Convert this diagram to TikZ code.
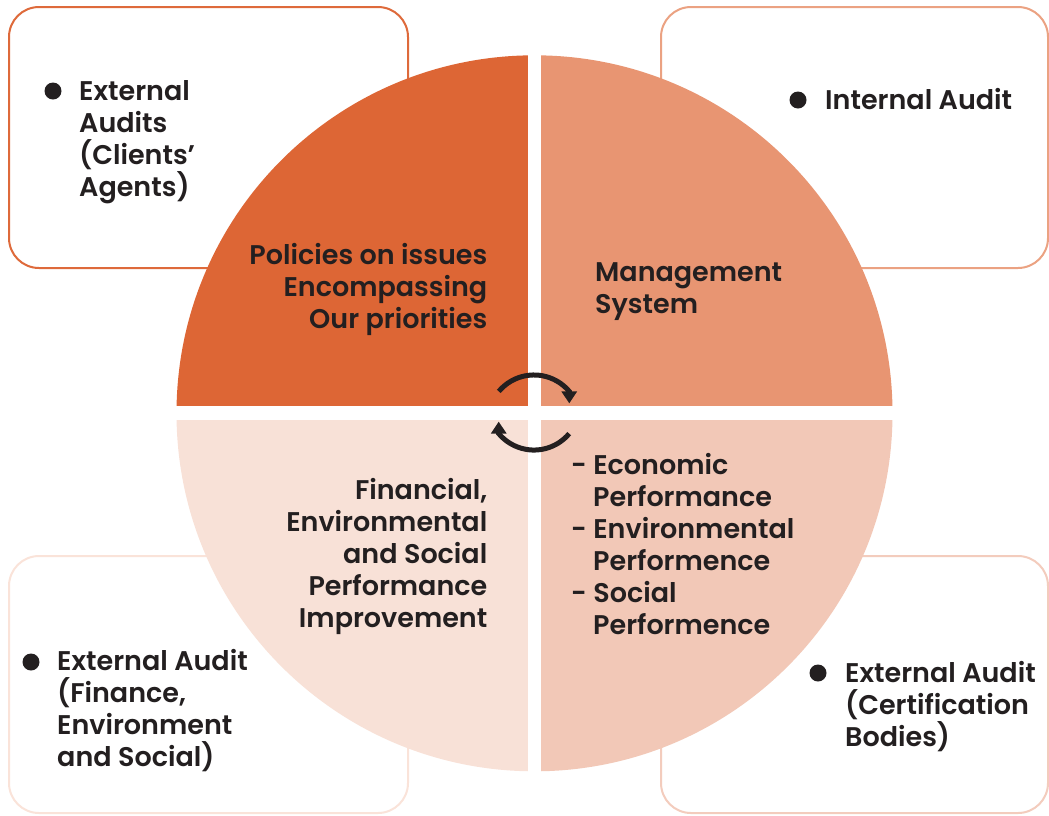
\documentclass[tikz,border=0pt]{standalone}
\usepackage{fontspec}
\setmainfont{Poppins}[UprightFont=* SemiBold, BoldFont=* Bold]
\usetikzlibrary{arrows.meta}
\definecolor{qa}{HTML}{DD6635}
\definecolor{qb}{HTML}{E89572}
\definecolor{qc}{HTML}{F8E1D7}
\definecolor{qd}{HTML}{F2C8B7}
\definecolor{ba}{HTML}{DE6A3B}
\definecolor{bb}{HTML}{EBA282}
\definecolor{bc}{HTML}{FAE3D9}
\definecolor{bd}{HTML}{F3CCBD}
\definecolor{ink}{HTML}{231F20}
\begin{document}
\begin{tikzpicture}[x=1pt,y=-1pt,
  box/.style={draw, line width=2pt, rounded corners=30pt, fill=white, inner sep=0pt},
  txtl/.style={anchor=base west, inner sep=0pt, text=ink, font=\fontsize{27}{32}\selectfont},
  txtr/.style={anchor=base east, inner sep=0pt, text=ink, font=\fontsize{27}{32}\selectfont},
  dot/.style={circle, fill=ink, minimum size=17pt, inner sep=0pt},
  cyc/.style={draw=ink, line width=5pt, -{Triangle[width=15pt,length=12pt]}}]
\useasboundingbox (0,0) rectangle (1049,815);
% boxes
\node[box, draw=ba, minimum width=399pt, minimum height=261pt] (boxTL) at (208.5,137.5) {};
\node[box, draw=bb, minimum width=387pt, minimum height=261pt] (boxTR) at (854.5,137.5) {};
\node[box, draw=bc, minimum width=399pt, minimum height=257pt] (boxBL) at (208.5,684.5) {};
\node[box, draw=bd, minimum width=387pt, minimum height=257pt] (boxBR) at (854.5,684.5) {};
% circle quadrants
\coordinate (C) at (534.5,413.3);
\def\R{358}
\fill[qa] (C) -- ++(180:\R) arc[start angle=180, end angle=270, radius=\R] -- cycle;
\fill[qb] (C) -- ++(270:\R) arc[start angle=270, end angle=360, radius=\R] -- cycle;
\fill[qc] (C) -- ++(90:\R) arc[start angle=90, end angle=180, radius=\R] -- cycle;
\fill[qd] (C) -- ++(0:\R) arc[start angle=0, end angle=90, radius=\R] -- cycle;
\draw[white, line width=14pt] ([xshift=-361pt]C) -- ([xshift=361pt]C);
\draw[white, line width=13pt] ([yshift=-361pt]C) -- ([yshift=361pt]C);
% cycle arrows
\coordinate (ta) at (498.8,391.4);
\coordinate (bb0) at (569.2,433.6);
\draw[cyc] (ta) arc[start angle=220, end angle=320, radius=46] -- ++(0,12);
\draw[cyc] (bb0) arc[start angle=40, end angle=140, radius=46] -- ++(0,-12);
% bullets
\node[dot] (d1) at (53,91) {};
\node[dot] (d2) at (798,100) {};
\node[dot] (d3) at (31,662) {};
\node[dot] (d4) at (818,673) {};
% box texts
\foreach \t [count=\i] in {External, Audits, {(Clients’}, {Agents)}}
  \node[txtl] (tl\i) at (79,{100+32*(\i-1)}) {\t};
\node[txtl] (tr1) at (825,109) {Internal Audit};
\foreach \t [count=\i] in {External Audit, {(Finance,}, Environment, {and Social)}}
  \node[txtl] (bl\i) at (57,{670+32*(\i-1)}) {\t};
\foreach \t [count=\i] in {External Audit, {(Certification}, {Bodies)}}
  \node[txtl] (br\i) at (845,{682+32*(\i-1)}) {\t};
% quadrant texts
\foreach \t [count=\i] in {Policies on issues, Encompassing, Our priorities}
  \node[txtr] (qa\i) at (487.5,{264+32*(\i-1)}) {\t};
\foreach \t [count=\i] in {Management, System}
  \node[txtl] (qb\i) at (595,{281+32*(\i-1)}) {\t};
\foreach \t [count=\i] in {{Financial,}, Environmental, and Social, Performance, Improvement}
  \node[txtr] (qc\i) at (487.5,{499+32*(\i-1)}) {\t};
\node[txtl] (qd1) at (571,474) {- Economic};
\node[txtl] (qd2) at (593,506) {Performance};
\node[txtl] (qd3) at (571,538) {- Environmental};
\node[txtl] (qd4) at (593,570) {Performence};
\node[txtl] (qd5) at (571,602) {- Social};
\node[txtl] (qd6) at (593,634) {Performence};
\end{tikzpicture}
\end{document}
